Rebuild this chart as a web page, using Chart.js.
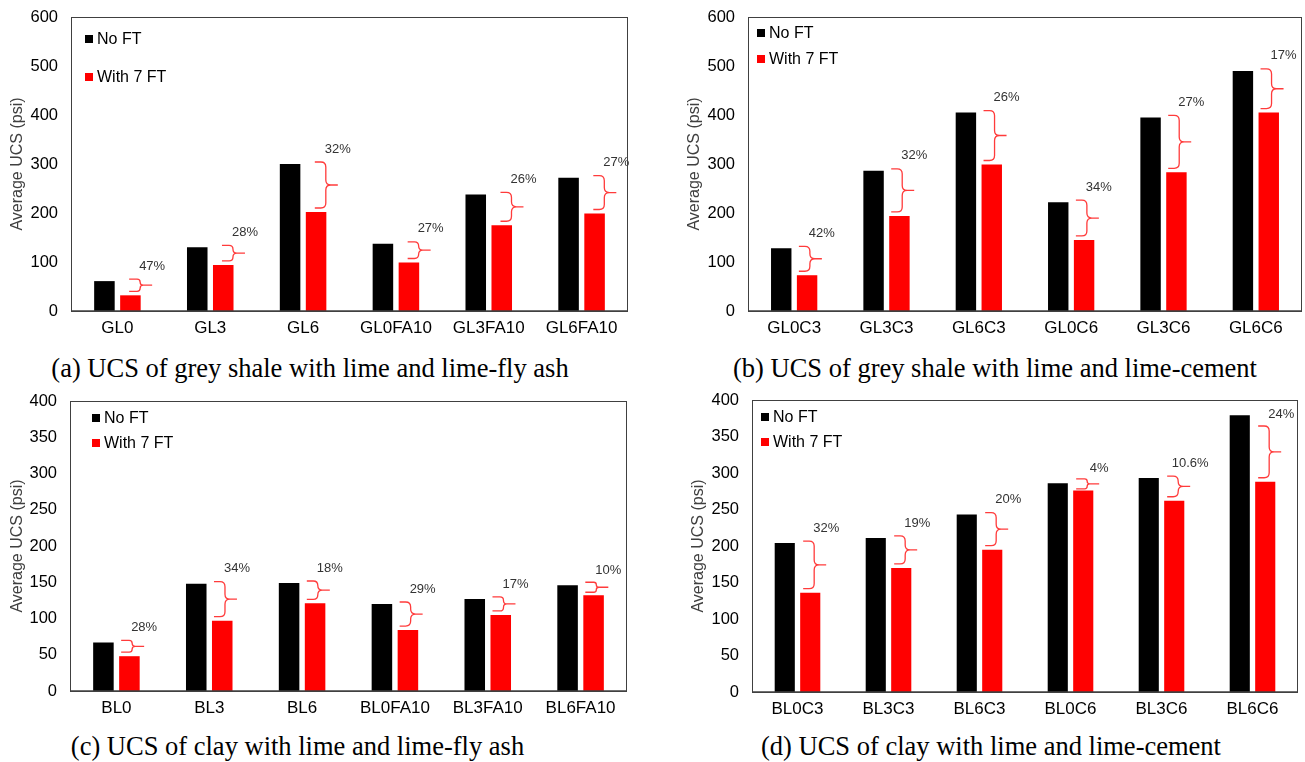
<!DOCTYPE html>
<html>
<head>
<meta charset="utf-8">
<script src="https://cdn.jsdelivr.net/npm/chart.js@4.4.1/dist/chart.umd.min.js"></script>
<style>
  html, body { margin: 0; padding: 0; background: #fff; }
  body { width: 1305px; height: 762px; position: relative; overflow: hidden; }
  .panel { position: absolute; }
  .caption {
    position: absolute;
    font-family: "Liberation Serif", "Times New Roman", serif;
    font-size: 26.5px;
    line-height: 30px;
    text-align: center;
    white-space: nowrap;
    color: #000;
  }
</style>
</head>
<body>
<div class="panel" style="left:0;top:0"><canvas id="chartA" width="650" height="345"></canvas></div>
<div class="panel" style="left:650px;top:0"><canvas id="chartB" width="655" height="345"></canvas></div>
<div class="panel" style="left:0;top:384px"><canvas id="chartC" width="650" height="345"></canvas></div>
<div class="panel" style="left:650px;top:384px"><canvas id="chartD" width="655" height="345"></canvas></div>

<div class="caption" style="left:0;top:353px;width:620px">(a) UCS of grey shale with lime and lime-fly ash</div>
<div class="caption" style="left:695px;top:353px;width:600px">(b) UCS of grey shale with lime and lime-cement</div>
<div class="caption" style="left:0;top:731px;width:595px">(c) UCS of clay with lime and lime-fly ash</div>
<div class="caption" style="left:691px;top:731px;width:600px">(d) UCS of clay with lime and lime-cement</div>

<script>
// ---- data ----
const seriesNames = ["No FT", "With 7 FT"];

const catsA = ["GL0", "GL3", "GL6", "GL0FA10", "GL3FA10", "GL6FA10"];
const noFtA = [61, 130, 300, 137, 238, 272];
const ftA = [32, 94, 202, 99, 175, 199];
const lossA = ["47%", "28%", "32%", "27%", "26%", "27%"];

const catsB = ["GL0C3", "GL3C3", "GL6C3", "GL0C6", "GL3C6", "GL6C6"];
const noFtB = [128, 286, 405, 222, 395, 490];
const ftB = [73, 194, 299, 145, 283, 405];
const lossB = ["42%", "32%", "26%", "34%", "27%", "17%"];

const catsC = ["BL0", "BL3", "BL6", "BL0FA10", "BL3FA10", "BL6FA10"];
const noFtC = [67, 148, 149, 120, 127, 146];
const ftC = [48, 97, 121, 84, 105, 132];
const lossC = ["28%", "34%", "18%", "29%", "17%", "10%"];

const catsD = ["BL0C3", "BL3C3", "BL6C3", "BL0C6", "BL3C6", "BL6C6"];
const noFtD = [204, 211, 243, 286, 293, 379];
const ftD = [136, 170, 195, 276, 262, 288];
const lossD = ["32%", "19%", "20%", "4%", "10.6%", "24%"];

const ticksShale = [0, 100, 200, 300, 400, 500, 600];
const ticksClay = [0, 50, 100, 150, 200, 250, 300, 350, 400];

const COLORS = { noFt: "#000000", ft: "#ff0000", brace: "#ff3b3b", frame: "#404040" };
const SANS = '"Liberation Sans", Arial, sans-serif';

// frame + legend + braces, all drawn from the chart's own scales / bar elements
const panelPlugin = {
  id: "panelDecor",
  afterDatasetsDraw(chart, args, opts) {
    const { ctx, chartArea: a } = chart;
    const black = chart.getDatasetMeta(0).data;
    const red = chart.getDatasetMeta(1).data;

    ctx.save();
    // braces + percentage labels
    ctx.strokeStyle = COLORS.brace;
    ctx.lineWidth = 1.3;
    ctx.font = "13px " + SANS;
    ctx.fillStyle = "#333";
    ctx.textAlign = "center";
    ctx.textBaseline = "middle";
    red.forEach((bar, i) => {
      let yTop = black[i].y - 2;
      let yBot = bar.y - 4;
      // keep the label inside the frame
      const labelY = Math.max(yTop - 13, a.top + 14);
      yTop = Math.max(yTop, labelY + 12);
      if (yBot - yTop < 10) {
        const mid = (yTop + yBot) / 2;
        yTop = mid - 5;
        yBot = mid + 5;
      }
      const x0 = bar.x - bar.width / 2 + opts.braceShift;
      drawBrace(ctx, x0, yTop, yBot, 11, 12);
      ctx.fillText(opts.loss[i], x0 + 23, labelY);
    });

    // legend inside the plot
    ctx.font = "16px " + SANS;
    ctx.textAlign = "left";
    chart.data.datasets.forEach((ds, i) => {
      const y = a.top + opts.legendY + i * opts.legendGap;
      const x = a.left + opts.legendX;
      ctx.fillStyle = ds.backgroundColor;
      ctx.fillRect(x, y - 4, 8, 8);
      ctx.fillStyle = "#000";
      ctx.fillText(ds.label, x + 12, y + 1);
    });

    // plot frame
    ctx.strokeStyle = COLORS.frame;
    ctx.lineWidth = 1;
    ctx.strokeRect(a.left + 0.5, a.top + 0.5, a.right - a.left - 1, a.bottom - a.top);
    ctx.lineWidth = 1.6;
    ctx.beginPath();
    ctx.moveTo(a.left, a.bottom);
    ctx.lineTo(a.right, a.bottom);
    ctx.stroke();
    ctx.restore();
  },
};

const drawBrace = (ctx, x0, yTop, yBot, arm, tip) => {
  const h = yBot - yTop;
  const r = Math.min(5, h / 4);
  const xv = x0 + arm;
  const ym = (yTop + yBot) / 2;
  ctx.beginPath();
  ctx.moveTo(x0, yTop);
  ctx.lineTo(xv - r, yTop);
  ctx.quadraticCurveTo(xv, yTop, xv, yTop + r);
  ctx.lineTo(xv, ym - r);
  ctx.quadraticCurveTo(xv, ym, xv + r, ym);
  ctx.lineTo(xv + tip, ym);
  ctx.moveTo(xv + r, ym);
  ctx.quadraticCurveTo(xv, ym, xv, ym + r);
  ctx.lineTo(xv, yBot - r);
  ctx.quadraticCurveTo(xv, yBot, xv - r, yBot);
  ctx.lineTo(x0, yBot);
  ctx.stroke();
};

const buildConfig = (cats, noFt, ft, loss, yTicks, box) => ({
  type: "bar",
  data: {
    labels: cats,
    datasets: [
      { label: seriesNames[0], data: noFt, backgroundColor: COLORS.noFt },
      { label: seriesNames[1], data: ft, backgroundColor: COLORS.ft },
    ],
  },
  options: {
    responsive: false,
    animation: false,
    devicePixelRatio: 1,
    categoryPercentage: 0.56,
    barPercentage: 0.79,
    layout: { padding: { left: 0, top: box.top, right: box.width - box.right, bottom: 0 } },
    scales: {
      x: {
        grid: { display: false, drawTicks: false },
        border: { display: false },
        ticks: { font: { size: 17, family: SANS }, color: "#000", padding: 7 },
        afterFit: (s) => { s.height = box.height - box.bottom; },
      },
      y: {
        min: 0,
        max: yTicks[yTicks.length - 1],
        grid: { display: false, drawTicks: false },
        border: { display: false },
        afterBuildTicks: (s) => { s.ticks = yTicks.map((v) => ({ value: v })); },
        ticks: { font: { size: 16.5, family: SANS }, color: "#000", padding: 13 },
        title: {
          display: true,
          text: "Average UCS (psi)",
          color: "#404040",
          font: { size: 16, family: SANS },
          padding: { top: box.titleX - 9.6, bottom: 0 },
        },
        afterFit: (s) => {
          s.width = box.left;
          s.paddingTop = 0;
          s.paddingBottom = 0;
        },
      },
    },
    plugins: {
      legend: { display: false },
      tooltip: { enabled: false },
      panelDecor: {
        loss,
        braceShift: box.braceShift,
        legendX: box.legendX,
        legendY: box.legendY,
        legendGap: box.legendGap,
      },
    },
  },
  plugins: [panelPlugin],
});

const renderPanel = (id, cfg) => new Chart(document.getElementById(id).getContext("2d"), cfg);

renderPanel("chartA", buildConfig(catsA, noFtA, ftA, lossA, ticksShale,
  { width: 650, height: 345, left: 71, top: 17, right: 628, bottom: 311, titleX: 18,
    braceShift: 9, legendX: 14, legendY: 22, legendGap: 38 }));
renderPanel("chartB", buildConfig(catsB, noFtB, ftB, lossB, ticksShale,
  { width: 655, height: 345, left: 98, top: 17, right: 652, bottom: 311, titleX: 45,
    braceShift: 2, legendX: 9, legendY: 16, legendGap: 26 }));
renderPanel("chartC", buildConfig(catsC, noFtC, ftC, lossC, ticksClay,
  { width: 650, height: 345, left: 70, top: 17, right: 627, bottom: 307, titleX: 18,
    braceShift: 2, legendX: 22, legendY: 17, legendGap: 25 }));
renderPanel("chartD", buildConfig(catsD, noFtD, ftD, lossD, ticksClay,
  { width: 655, height: 345, left: 102, top: 16, right: 648, bottom: 308, titleX: 49,
    braceShift: 3, legendX: 9, legendY: 17, legendGap: 25 }));
</script>
</body>
</html>
